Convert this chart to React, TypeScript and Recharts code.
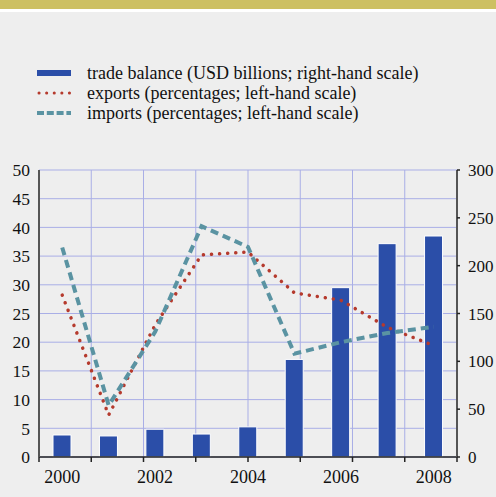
import React from "react";
import {
  ComposedChart,
  Bar,
  Line,
  XAxis,
  YAxis,
  CartesianGrid,
  Legend,
} from "recharts";

const years = ["2000", "2001", "2002", "2003", "2004", "2005", "2006", "2007", "2008"];
const tradeBalance = [23, 22, 29, 24, 31.5, 102, 177, 223, 231];
const exportsPct = [28.2, 7.3, 23, 35.2, 35.7, 28.6, 27.3, 22.6, 19.4];
const importsPct = [36.5, 9.0, 21.8, 40.2, 36.6, 18, 20, 21.6, 22.7];

const leftTicks = [0, 5, 10, 15, 20, 25, 30, 35, 40, 45, 50];
const rightTicks = [0, 50, 100, 150, 200, 250, 300];
const boundaryTicks = [0, 1, 2, 3, 4, 5, 6, 7, 8, 9];

const data = years.map((year, i) => ({
  year,
  balance: tradeBalance[i],
  exports: exportsPct[i],
  imports: importsPct[i],
}));

const FONT = "'Liberation Serif', 'DejaVu Serif', serif";
const BLUE = "#2b4ea8";
const RED = "#b53a2d";
const TEAL = "#5a93a2";
const GRID = "#a9aee6";

const legendItems = [
  { label: "trade balance (USD billions; right-hand scale)", kind: "bar" },
  { label: "exports (percentages; left-hand scale)", kind: "dot" },
  { label: "imports (percentages; left-hand scale)", kind: "dash" },
];

function LegendBox() {
  return (
    <div style={{ fontFamily: FONT, fontSize: 18, color: "#111", lineHeight: "20px" }}>
      {legendItems.map((item) => (
        <div key={item.label} style={{ display: "flex", alignItems: "center", height: 20 }}>
          <svg width={50} height={10} style={{ flex: "none" }}>
            {item.kind === "bar" && <rect x={0} y={2} width={34} height={6} fill={BLUE} />}
            {item.kind === "dot" && (
              <line x1={2} y1={5} x2={34} y2={5} stroke={RED} strokeWidth={3}
                strokeLinecap="round" strokeDasharray="0.1 7.5" />
            )}
            {item.kind === "dash" && (
              <line x1={0} y1={5} x2={34} y2={5} stroke={TEAL} strokeWidth={4} strokeDasharray="7 2.8" />
            )}
          </svg>
          <span style={{ whiteSpace: "nowrap" }}>{item.label}</span>
        </div>
      ))}
    </div>
  );
}

const emptyTick = () => <g />;

export default function App() {
  return (
    <div style={{ position: "absolute", left: 0, top: 0, width: 496, height: 497, background: "#eeeeee", fontFamily: FONT }}>
      <div style={{ position: "absolute", left: 0, top: 0, width: 496, height: 9, background: "#cdc062" }} />
      <div style={{ position: "absolute", left: 0, top: 9, width: 496, height: 3, background: "#ffffff" }} />
      <ComposedChart
        width={496}
        height={497}
        data={data}
        margin={{ top: 170, right: 0, bottom: 0, left: 0 }}
        style={{ position: "absolute", left: 0, top: 0 }}
      >
        <XAxis
          xAxisId={0}
          type="number"
          domain={[0, 9]}
          ticks={boundaryTicks}
          interval={0}
          height={2}
          tick={emptyTick}
          tickSize={5}
          axisLine={{ stroke: "#222", strokeWidth: 1.5 }}
          tickLine={{ stroke: "#222", strokeWidth: 1.5 }}
        />
        <XAxis
          xAxisId={1}
          dataKey="year"
          height={38}
          interval={1}
          axisLine={false}
          tickLine={false}
          tickMargin={5}
          tick={{ fontFamily: FONT, fontSize: 18, fill: "#111" }}
        />
        <YAxis
          yAxisId="left"
          domain={[0, 50]}
          ticks={leftTicks}
          width={39}
          interval={0}
          axisLine={{ stroke: "#555", strokeWidth: 2 }}
          tickLine={false}
          tickMargin={3}
          tick={{ fontFamily: FONT, fontSize: 17.5, fill: "#111" }}
        />
        <YAxis
          yAxisId="right"
          orientation="right"
          domain={[0, 300]}
          ticks={rightTicks}
          width={39}
          interval={0}
          axisLine={{ stroke: "#555", strokeWidth: 2 }}
          tickLine={{ stroke: "#222", strokeWidth: 1.5 }}
          tickSize={3}
          tickMargin={8}
          tick={{ fontFamily: FONT, fontSize: 17, fill: "#111", textAnchor: "start" }}
        />
        <CartesianGrid xAxisId={0} yAxisId="left" stroke={GRID} strokeWidth={1} />
        <Legend
          layout="horizontal"
          verticalAlign="middle"
          align="center"
          wrapperStyle={{ top: 63, left: 37, width: 440 }}
          content={() => <LegendBox />}
        />
        <Bar
          xAxisId={1}
          yAxisId="right"
          dataKey="balance"
          barSize={18}
          fill={BLUE}
          stroke="#ffffff"
          strokeWidth={1}
          isAnimationActive={false}
        />
        <Line
          xAxisId={1}
          yAxisId="left"
          type="linear"
          dataKey="exports"
          stroke={RED}
          strokeWidth={3.5}
          strokeLinecap="round"
          strokeDasharray="0.1 8"
          dot={false}
          activeDot={false}
          isAnimationActive={false}
        />
        <Line
          xAxisId={1}
          yAxisId="left"
          type="linear"
          dataKey="imports"
          stroke={TEAL}
          strokeWidth={4}
          strokeDasharray="8 5"
          dot={false}
          activeDot={false}
          isAnimationActive={false}
        />
      </ComposedChart>
    </div>
  );
}
